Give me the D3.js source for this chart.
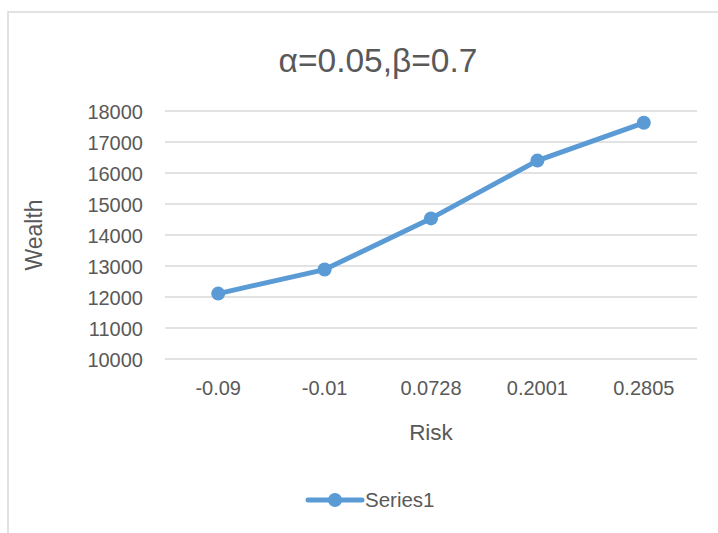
<!DOCTYPE html>
<html><head><meta charset="utf-8">
<script src="https://cdn.jsdelivr.net/npm/d3@7"></script>
<style>body{margin:0;background:#fff;}svg{display:block;font-family:"Liberation Sans",Arial,sans-serif;}</style>
</head><body>
<svg id="c" width="718" height="533"></svg>
<script>
const categories = ["-0.09", "-0.01", "0.0728", "0.2001", "0.2805"];
const wealth = [12110, 12885, 14535, 16400, 17620];
const yTicks = [10000, 11000, 12000, 13000, 14000, 15000, 16000, 17000, 18000];
const seriesName = "Series1";
const title = "α=0.05,β=0.7";

const svg = d3.select("#c");
const txt = "#595959", blue = "#5B9BD5";
const ff = "Liberation Sans, Arial, sans-serif";

svg.append("rect").attr("x", 8).attr("y", 12).attr("width", 740).attr("height", 560)
  .attr("fill", "none").attr("stroke", "#d9d9d9").attr("stroke-width", 1.5);

const x = d3.scaleBand().domain(categories).range([165, 697]);
const y = d3.scaleLinear().domain([10000, 18000]).range([359, 111]);

const grid = svg.append("g");
grid.selectAll("line").data(yTicks).join("line")
  .attr("x1", 165).attr("x2", 697)
  .attr("y1", d => y(d)).attr("y2", d => y(d))
  .attr("stroke", "#d9d9d9").attr("stroke-width", 1.3);

const yAxis = svg.append("g").attr("transform", "translate(143,0)")
  .call(d3.axisLeft(y).tickValues(yTicks).tickSize(0).tickPadding(0).tickFormat(d3.format("d")));
yAxis.attr("font-size", 20).attr("font-family", ff);
yAxis.select(".domain").remove();
yAxis.selectAll("text").attr("fill", txt).attr("dy", "0.35em");

const xAxis = svg.append("g").attr("transform", "translate(0,381)")
  .call(d3.axisBottom(x).tickSize(0).tickPadding(0));
xAxis.attr("font-size", 20).attr("font-family", ff);
xAxis.select(".domain").remove();
xAxis.selectAll("text").attr("fill", txt);

svg.append("text").attr("x", 378).attr("y", 72).attr("text-anchor", "middle")
  .attr("fill", txt).attr("font-size", 33.5).text(title);

svg.append("text").attr("x", 431).attr("y", 440).attr("text-anchor", "middle")
  .attr("fill", txt).attr("font-size", 22.5).text("Risk");

svg.append("text").attr("transform", "translate(42,235) rotate(-90)").attr("text-anchor", "middle")
  .attr("fill", txt).attr("font-size", 23).text("Wealth");

const pts = categories.map((c, i) => [x(c) + x.bandwidth() / 2, y(wealth[i])]);
svg.append("path").attr("d", d3.line()(pts)).attr("fill", "none")
  .attr("stroke", blue).attr("stroke-width", 5).attr("stroke-linejoin", "round").attr("stroke-linecap", "round");
svg.selectAll("circle.pt").data(pts).join("circle").attr("class", "pt")
  .attr("cx", d => d[0]).attr("cy", d => d[1]).attr("r", 7).attr("fill", blue);

const lg = svg.append("g");
lg.append("line").attr("x1", 308).attr("x2", 362).attr("y1", 500).attr("y2", 500)
  .attr("stroke", blue).attr("stroke-width", 5).attr("stroke-linecap", "round");
lg.append("circle").attr("cx", 335).attr("cy", 500).attr("r", 7).attr("fill", blue);
lg.append("text").attr("x", 365).attr("y", 507).attr("fill", txt).attr("font-size", 20.5).text(seriesName);
</script>
</body></html>
